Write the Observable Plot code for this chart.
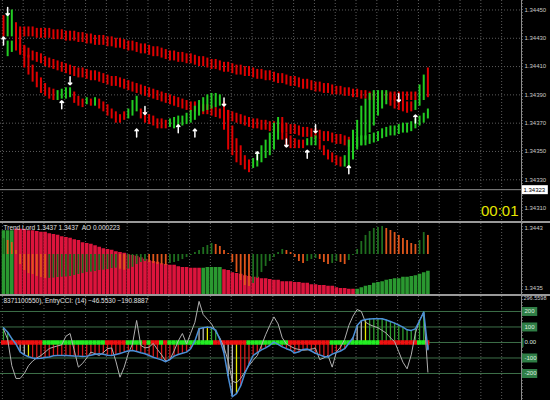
<!DOCTYPE html>
<html><head><meta charset="utf-8">
<script src="https://cdn.jsdelivr.net/npm/d3@7"></script>
<script src="https://cdn.jsdelivr.net/npm/@observablehq/plot@0.6"></script>
<style>
html,body{margin:0;padding:0;background:#000;}
#chart{position:relative;width:550px;height:400px;background:#000;overflow:hidden;}
.sep{position:absolute;left:0;width:550px;height:2px;background:#9a9a9a;}
.vax{position:absolute;left:521px;top:0;width:1px;height:400px;background:#8c8c8c;}
</style></head><body><div id="chart"></div>
<script>
// ---------- MAIN PANEL DATA (price) ----------
const priceTicks = [1.3445, 1.3443, 1.3441, 1.3439, 1.3437, 1.3435, 1.3433, 1.3431];
const priceGrid = [1.3445, 1.3443, 1.3441, 1.3439, 1.3437, 1.3435, 1.3433];
const currentPrice = 1.34323;
const clockText = "00:01";

const aHigh = [null,null,null,1.34439,1.34438,1.34438,1.34438,1.34438,1.34437,1.34437,
1.34437,1.34437,1.34436,1.34436,1.34436,1.34435,1.34435,1.34435,1.34434,1.34434,
1.34433,1.34433,1.34432,1.34432,1.34432,1.34431,1.34431,1.34430,1.34430,1.34429,
1.34428,1.34428,1.34427,1.34426,1.34426,1.34425,1.34424,1.34424,1.34423,1.34422,
1.34421,1.34421,1.34420,1.34420,1.34419,1.34419,1.34418,1.34417,1.34417,1.34416,
1.34415,1.34415,1.34414,1.34413,1.34413,1.34412,1.34411,1.34411,1.34410,1.34410,
1.34409,1.34408,1.34408,1.34407,1.34407,1.34406,1.34405,1.34405,1.34404,1.34403,
1.34403,1.34402,1.34401,1.34401,1.34400,1.34399,1.34399,1.34398,1.34398,1.34397,
1.34396,1.34396,1.34395,1.34395,1.34394,1.34394,1.34393,1.34393,1.34392,1.34392,
1.34392,1.34392,1.34392,1.34392,1.34392,1.34392,1.34392,1.34392,1.34392,1.34392,
null,null,null];
const aLow = [null,null,null,1.34431,1.34430,1.34431,1.34431,1.34431,1.34430,1.34430,
1.34430,1.34430,1.34429,1.34429,1.34429,1.34428,1.34428,1.34428,1.34427,1.34427,
1.34426,1.34426,1.34425,1.34425,1.34425,1.34424,1.34424,1.34423,1.34423,1.34422,
1.34421,1.34421,1.34420,1.34419,1.34419,1.34418,1.34417,1.34417,1.34416,1.34415,
1.34414,1.34414,1.34413,1.34413,1.34412,1.34412,1.34411,1.34410,1.34410,1.34409,
1.34408,1.34408,1.34407,1.34406,1.34406,1.34405,1.34404,1.34404,1.34403,1.34403,
1.34402,1.34401,1.34401,1.34400,1.34400,1.34399,1.34398,1.34398,1.34397,1.34396,
1.34396,1.34395,1.34394,1.34394,1.34393,1.34392,1.34392,1.34391,1.34391,1.34390,
1.34390,1.34390,1.34389,1.34389,1.34388,1.34388,1.34387,1.34387,1.34386,1.34386,
1.34386,1.34386,1.34386,1.34386,1.34386,1.34386,1.34386,1.34386,1.34386,1.34386,
null,null,null];

const bHigh = [null,1.34428,1.34428,1.34430,1.34426,1.34424,1.34423,1.34421,1.34420,1.34419,
1.34417,1.34416,1.34415,1.34414,1.34413,1.34412,1.34411,1.34410,1.34409,1.34409,
1.34408,1.34407,1.34407,1.34406,1.34405,1.34404,1.34403,1.34403,1.34402,1.34401,
1.34400,1.34399,1.34398,1.34397,1.34396,1.34395,1.34394,1.34393,1.34392,1.34391,
1.34390,1.34389,1.34388,1.34387,1.34386,1.34385,1.34385,1.34384,1.34383,1.34383,
1.34382,1.34381,1.34380,1.34380,1.34379,1.34378,1.34377,1.34376,1.34375,1.34374,
1.34373,1.34373,1.34372,1.34372,1.34371,1.34371,1.34370,1.34370,1.34370,1.34369,
1.34369,1.34368,1.34367,1.34367,1.34366,1.34366,1.34365,1.34364,1.34364,1.34363,
1.34362,1.34362,1.34361,1.34360,1.34360,1.34360,1.34361,1.34361,1.34362,1.34363,
1.34364,1.34366,1.34367,1.34368,1.34368,1.34369,1.34370,1.34370,1.34371,1.34373,
1.34375,1.34377,1.34380];
const bLow = [null,1.34417,1.34420,1.34421,1.34419,1.34417,1.34416,1.34414,1.34413,1.34412,
1.34410,1.34409,1.34408,1.34407,1.34406,1.34405,1.34404,1.34403,1.34402,1.34402,
1.34401,1.34400,1.34400,1.34399,1.34398,1.34397,1.34396,1.34396,1.34395,1.34394,
1.34393,1.34392,1.34391,1.34390,1.34389,1.34388,1.34387,1.34386,1.34385,1.34384,
1.34383,1.34382,1.34381,1.34380,1.34379,1.34378,1.34378,1.34377,1.34376,1.34376,
1.34375,1.34374,1.34373,1.34373,1.34372,1.34371,1.34370,1.34369,1.34368,1.34367,
1.34366,1.34366,1.34365,1.34365,1.34364,1.34364,1.34363,1.34363,1.34363,1.34362,
1.34362,1.34361,1.34360,1.34360,1.34359,1.34359,1.34358,1.34357,1.34357,1.34356,
1.34355,1.34355,1.34354,1.34353,1.34353,1.34353,1.34354,1.34354,1.34355,1.34356,
1.34357,1.34359,1.34360,1.34361,1.34361,1.34362,1.34363,1.34363,1.34364,1.34366,
1.34368,1.34370,1.34373];
const bRuns = [["g",3],["r",81],["g",19]];

const cHigh = [1.34446,1.34448,1.34450,1.34441,1.34436,1.34425,1.34418,1.34411,1.34406,1.34402,
1.34398,1.34395,1.34394,1.34393,1.34394,1.34395,1.34395,1.34392,1.34389,1.34387,
1.34388,1.34387,1.34388,1.34387,1.34385,1.34383,1.34380,1.34378,1.34376,1.34378,
1.34380,1.34386,1.34389,1.34380,1.34378,1.34376,1.34375,1.34373,1.34373,1.34372,
1.34373,1.34374,1.34375,1.34375,1.34377,1.34379,1.34382,1.34386,1.34388,1.34390,
1.34391,1.34391,1.34390,1.34385,1.34379,1.34368,1.34359,1.34354,1.34347,1.34344,
1.34345,1.34349,1.34354,1.34358,1.34363,1.34370,1.34374,1.34374,1.34363,1.34361,
1.34359,1.34358,1.34358,1.34359,1.34360,1.34361,1.34358,1.34354,1.34351,1.34349,
1.34347,1.34346,1.34347,1.34358,1.34365,1.34372,1.34382,1.34387,1.34391,1.34393,
1.34393,1.34393,1.34393,1.34391,1.34389,1.34387,1.34386,1.34385,1.34385,1.34386,
1.34397,1.34404,1.34409];
const cLow = [1.34431,1.34431,1.34431,1.34425,1.34418,1.34409,1.34404,1.34399,1.34395,1.34391,
1.34389,1.34387,1.34386,1.34386,1.34387,1.34387,1.34388,1.34384,1.34382,1.34381,
1.34383,1.34382,1.34382,1.34380,1.34378,1.34375,1.34373,1.34370,1.34370,1.34372,
1.34373,1.34375,1.34378,1.34373,1.34370,1.34369,1.34368,1.34366,1.34366,1.34366,
1.34367,1.34366,1.34367,1.34368,1.34369,1.34370,1.34372,1.34375,1.34378,1.34379,
1.34380,1.34381,1.34382,1.34365,1.34351,1.34347,1.34342,1.34340,1.34337,1.34335,
1.34338,1.34339,1.34342,1.34345,1.34347,1.34351,1.34358,1.34358,1.34353,1.34352,
1.34352,1.34352,1.34352,1.34354,1.34354,1.34354,1.34351,1.34347,1.34344,1.34342,
1.34340,1.34339,1.34339,1.34339,1.34344,1.34351,1.34354,1.34358,1.34363,1.34368,
1.34375,1.34380,1.34383,1.34382,1.34380,1.34379,1.34378,1.34377,1.34378,1.34379,
1.34382,1.34386,1.34388];
const cRuns = [["r",1],["g",2],["r",10],["g",4],["r",3],["g",1],["r",1],["g",1],["r",7],["g",3],
["r",7],["g",13],["r",7],["g",7],["r",6],["g",3],["r",6],["g",11],["r",6],["g",3],["r",1]];

const arrowIdx = [1, 0, 16, 14, 34, 32, 42, 46, 53, 61, 68, 73, 75, 83, 95, 99];
const arrowPrice = [1.34449, 1.34428, 1.34400, 1.34383, 1.34379, 1.34363, 1.34366, 1.34363,
  1.34385, 1.34347, 1.34356, 1.34348, 1.34366, 1.34337, 1.34388, 1.34373];
const arrowDir = ["down","up","down","up","down","up","up","up","down","up","down","up","down","up","down","up"];

// ---------- TREND LORD / AO ----------
const tlValues = [1.34427,1.34427,1.34427,1.34429,1.34429,1.34429,1.34427,1.34427,1.34426,1.34425,
1.34425,1.34423,1.34422,1.34421,1.34419,1.34418,1.34417,1.34415,1.34414,1.34411,
1.34410,1.34409,1.34407,1.34405,1.34403,1.34402,1.34401,1.34399,1.34398,1.34397,
1.34395,1.34394,1.34393,1.34391,1.34389,1.34387,1.34386,1.34385,1.34383,1.34382,
1.34381,1.34381,1.34379,1.34378,1.34378,1.34377,1.34377,1.34377,1.34377,1.34378,
1.34378,1.34378,1.34378,1.34375,1.34374,1.34371,1.34370,1.34369,1.34367,1.34366,
1.34365,1.34365,1.34363,1.34363,1.34362,1.34361,1.34361,1.34359,1.34359,1.34359,
1.34358,1.34358,1.34357,1.34357,1.34355,1.34355,1.34354,1.34354,1.34353,1.34353,
1.34351,1.34350,1.34350,1.34349,1.34349,1.34349,1.34351,1.34353,1.34354,1.34357,
1.34358,1.34359,1.34361,1.34362,1.34363,1.34363,1.34365,1.34365,1.34366,1.34367,
1.34369,1.34371,1.34373];
const tlRuns = [["g",3],["c",45],["g",5],["c",32],["g",18]];
const tlTicks = [1.3443, 1.3435];

const aoValues = [0.000187,0.000164,0.000140,0.000047,-0.000117,-0.000187,-0.000223,-0.000234,-0.000257,-0.000269,
-0.000281,-0.000279,-0.000276,-0.000269,-0.000266,-0.000262,-0.000257,-0.000246,-0.000234,-0.000223,
-0.000211,-0.000206,-0.000199,-0.000187,-0.000183,-0.000176,-0.000164,-0.000160,-0.000172,-0.000184,
-0.000170,-0.000150,-0.000117,-0.000094,-0.000082,-0.000094,-0.000105,-0.000117,-0.000121,-0.000129,
-0.000105,-0.000094,-0.000082,-0.000059,-0.000035,-0.000012,0.000023,0.000047,0.000082,0.000105,
0.000129,0.000117,0.000094,0.000047,0.000012,-0.000094,-0.000211,-0.000304,-0.000363,-0.000374,
-0.000339,-0.000281,-0.000211,-0.000140,-0.000082,-0.000035,0.000023,0.000059,0.000047,0.000023,
-0.000035,-0.000082,-0.000105,-0.000082,-0.000059,-0.000047,-0.000059,-0.000094,-0.000117,-0.000105,
-0.000082,-0.000094,-0.000117,-0.000070,-0.000012,0.000059,0.000152,0.000223,0.000269,0.000304,
0.000316,0.000328,0.000304,0.000281,0.000257,0.000223,0.000187,0.000164,0.000129,0.000117,
0.000164,0.000257,0.000223];

// ---------- CCI ----------
const cciLevels = [200, 100, 0, -100, -200];
const cciTop = 296.5598;
const cciBlue = [95,66,25,-10,-60,-80,-92,-100,-104,-102,
-97,-93,-86,-84,-84,-84,-85,-87,-88,-90,
-88,-82,-76,-73,-76,-82,-84,-78,-71,-62,
-55,-52,-58,-66,-73,-84,-95,-104,-112,-124,
-110,-88,-78,-70,-62,-40,10,88,95,99,
95,80,20,-70,-220,-350,-330,-280,-200,-140,
-84,-65,-48,-35,-18,2,-12,-28,-40,-50,
-68,-60,-45,-42,-55,-70,-80,-90,-93,-75,
-65,-55,-40,-5,30,110,140,148,152,153,
153,153,145,135,125,112,99,82,78,88,
140,196,-46.5530];
const cciGray = [88,20,-150,-232,-232,-200,-150,-120,-100,-84,
-62,-39,-30,-22,-15,40,58,-50,-159,-135,
-100,-62,-72,-84,-65,-40,-35,-120,-224,-160,
-70,-10,142,-19,-35,-30,-6,-45,-80,-120,
-110,-55,10,58,-10,60,130,265,180,150,
120,70,30,-30,-120,-250,-260,-232,-190,-150,
-115,-84,-20,50,110,165,120,30,-10,-25,
-39,-45,-50,-48,-42,-39,-110,-100,-84,-159,
-62,-30,20,110,170,213,200,131,115,104,
95,78,60,30,5,-60,-127,-170,-80,60,
142,196,-190.8887];
const zeroRuns = [["r",10],["g",15],["r",5],["g",4],["r",1],["g",1],["r",2],["g",1],["r",1],["g",11],
["r",8],["g",10],["r",10],["g",12],["r",9],["g",2],["r",1]];
const histRuns = [["g",3],["w",3],["y",1],["r",39],["g",1],["w",2],["y",1],["g",3],["w",3],["y",1],
["r",8],["g",1],["r",18],["w",3],["y",1],["g",14],["w",1]];

// ---------- BUILD ----------
const N = aoValues.length;
const expand = runs => runs.flatMap(([c, n]) => Array(n).fill(c));
const mainColor = {r: "#e00000", g: "#22cc22"};
const bCodes = expand(bRuns), cCodes = expand(cRuns), tlCodes = expand(tlRuns);
const zeroCodes = expand(zeroRuns), histCodes = expand(histRuns);

const band = (hi, lo, codes) => d3.range(N).filter(i => hi[i] != null)
  .map(i => ({i, hi: hi[i], lo: lo[i], c: codes ? codes[i] : "r"}));
const bandA = band(aHigh, aLow, null);
const bandB = band(bHigh, bLow, bCodes);
const bandC = band(cHigh, cLow, cCodes);
const arrows = arrowIdx.map((i, k) => ({i, p: arrowPrice[k], up: arrowDir[k] === "up"}));

const tl = d3.range(N).map(i => ({i, v: tlValues[i], c: tlCodes[i]}));
const ao = d3.range(N).map(i => ({i, v: aoValues[i], up: i === 0 || aoValues[i] >= aoValues[i - 1]}));
const cci = d3.range(N).map(i => ({i, blue: cciBlue[i], gray: cciGray[i], z: zeroCodes[i], h: histCodes[i]}));

const font = "'Liberation Sans',Arial,sans-serif";
const xDomain = [-0.72, 124.5];
const gridX = d3.range(-1, 25).map(k => 4.73 + 5 * k);
const gridStyle = {stroke: "#5c5c5c", strokeDasharray: "1,2", strokeWidth: 1};
const common = (height, extra) => Object.assign({
  width: 550, height, marginLeft: 0, marginRight: 29, marginTop: 0, marginBottom: 0,
  x: {domain: xDomain, axis: null},
  color: {type: "identity"},
  style: {background: "none", color: "#c8c8c8", fontFamily: font, fontSize: "6px", display: "block"}
}, extra);

const mainY = [1.343005, 1.344567];
const main = Plot.plot(common(221, {
  y: {domain: mainY, axis: "right", ticks: priceTicks, tickFormat: d3.format(".5f"), tickSize: 0, tickPadding: 3, label: null},
  marks: [
    Plot.ruleX(gridX, {x: d => d, ...gridStyle}),
    Plot.ruleY(priceGrid, {y: d => d, ...gridStyle}),
    Plot.ruleY([currentPrice], {y: d => d, stroke: "#8a8a8a"}),
    Plot.ruleX(bandA, {x: "i", y1: "lo", y2: "hi", stroke: d => mainColor[d.c], strokeWidth: 2}),
    Plot.ruleX(bandB, {x: "i", y1: "lo", y2: "hi", stroke: d => mainColor[d.c], strokeWidth: 2}),
    Plot.ruleX(bandC, {x: "i", y1: "lo", y2: "hi", stroke: d => mainColor[d.c], strokeWidth: 2}),
    Plot.vector(arrows, {x: "i", y: "p", length: 8, rotate: d => d.up ? 0 : 180, anchor: "middle", stroke: "#ffffff", strokeWidth: 1.5}),
    Plot.ruleY([currentPrice], {y: d => d, x1: xDomain[1] + 0.05, x2: xDomain[1] + 6.45, stroke: "#ffffff", strokeWidth: 9}),
    Plot.text([currentPrice], {y: d => d, frameAnchor: "right", dx: 2, textAnchor: "start", text: d => d3.format(".5f")(d), fill: "#000", fontSize: 6}),
    Plot.text([clockText], {frameAnchor: "bottom-right", dx: -3, dy: -6, textAnchor: "end", lineAnchor: "bottom", fill: "#e6e600", fontSize: 15, text: d => d})
  ]
}));

const tlDomain = [1.34342, 1.3443667];
const tlColor = {g: "#2a9830", c: "#dc143c"};
const tlPlot = Plot.plot(common(71, {
  y: {domain: tlDomain, axis: "right", ticks: tlTicks, tickFormat: d3.format(".4f"), tickSize: 0, tickPadding: 3, label: null},
  marks: [
    Plot.ruleX(gridX, {x: d => d, ...gridStyle}),
    Plot.ruleX(tl, {x: "i", y1: tlDomain[0], y2: "v", stroke: d => tlColor[d.c], strokeWidth: 3.6})
  ]
}));

const aoDomain = [-0.000468, 0.0003627];
const tlTitle = `Trend Lord ${d3.format(".4f")(tlValues[N - 1])} ${d3.format(".4f")(tlValues[N - 1])}  AO ${d3.format(".6f")(aoValues[N - 1])}`;
const aoPlot = Plot.plot(common(71, {
  y: {domain: aoDomain, axis: null},
  marks: [
    Plot.ruleX(ao, {x: "i", y1: 0, y2: "v", stroke: d => d.up ? "#1f6e1f" : "#e0561b", strokeWidth: 1.8}),
    Plot.text([tlTitle], {frameAnchor: "top-left", dx: 3, dy: 2, lineAnchor: "top", textAnchor: "start", fill: "#e0e0e0", fontSize: 6.5, text: d => d})
  ]
}));

const cciDomain = [-374.2, cciTop];
const histColor = {r: "#d41a1a", g: "#2e9e2e", w: "#b8b8b8", y: "#e8e800"};
const zeroColor = {r: "#f01010", g: "#22ee22"};
const cciTitle = `8371100550), EntryCCI: (14) ${d3.format(".4f")(cciBlue[N - 1])} ${d3.format(".4f")(cciGray[N - 1])}`;
const cciPlot = Plot.plot(common(104, {
  y: {domain: cciDomain, axis: null},
  marks: [
    Plot.ruleX(gridX, {x: d => d, ...gridStyle}),
    Plot.ruleY(cciLevels, {y: d => d, stroke: "#3d7048"}),
    Plot.ruleY(cciLevels.filter(d => d !== 0), {y: d => d, x1: xDomain[1] + 0.15, x2: xDomain[1] + 3.9, stroke: "#2f7e46", strokeWidth: 9}),
    Plot.ruleY([0], {y: d => d, x1: xDomain[1] + 0.15, x2: xDomain[1] + 0.6, stroke: "#2f7e46", strokeWidth: 9}),
    Plot.ruleX(cci, {x: "i", y1: 0, y2: "blue", stroke: d => histColor[d.h], strokeWidth: 1.3}),
    Plot.ruleY(cci, {y: 0, x1: d => d.i - 0.5, x2: d => d.i + 0.5, stroke: d => zeroColor[d.z], strokeWidth: 4.5}),
    Plot.line(cci, {x: "i", y: "gray", stroke: "#b0b0b0", strokeWidth: 1}),
    Plot.line(cci, {x: "i", y: "blue", stroke: "#4b8fd8", strokeWidth: 1.5}),
    Plot.text(cciLevels, {y: d => d, frameAnchor: "right", dx: 3, textAnchor: "start", text: d => d === 0 ? "0.00" : String(d), fill: "#dfeee0"}),
    Plot.text([cciTop], {frameAnchor: "top-right", dx: 2, textAnchor: "start", lineAnchor: "top", text: d => d3.format(".4f")(d), fill: "#d0d0d0", fontSize: 5.5}),
    Plot.text([cciTitle], {frameAnchor: "top-left", dx: 3, dy: 2, lineAnchor: "top", textAnchor: "start", fill: "#e0e0e0", fontSize: 6.5, text: d => d})
  ]
}));

const root = document.getElementById("chart");
function place(el, top) {
  const d = document.createElement("div");
  d.style.cssText = `position:absolute;left:0;top:${top}px;`;
  d.append(el); root.append(d);
}
place(main, 0);
place(tlPlot, 223);
place(aoPlot, 223);
place(cciPlot, 296);
for (const t of [221, 294]) { const s = document.createElement("div"); s.className = "sep"; s.style.top = t + "px"; root.append(s); }
const v = document.createElement("div"); v.className = "vax"; root.append(v);
</script></body></html>
